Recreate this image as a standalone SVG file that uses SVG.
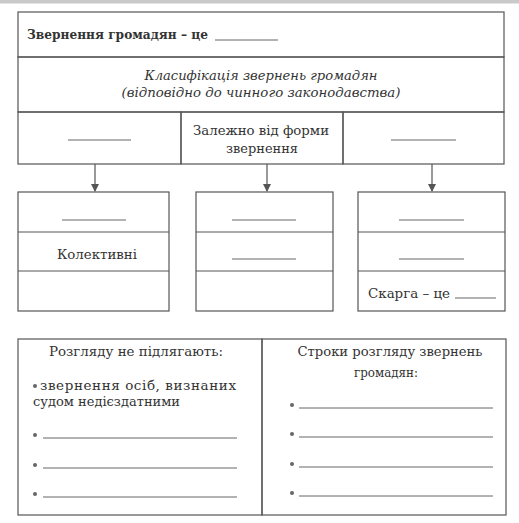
<svg xmlns="http://www.w3.org/2000/svg" width="519" height="523" viewBox="0 0 519 523">
<style>
.box{fill:none;stroke:#555;stroke-width:1.2}
.ln{stroke:#555;stroke-width:1.2;fill:none}
.bl{stroke:#666;stroke-width:1;fill:none}
.t{font-family:"DejaVu Serif","Liberation Serif",serif;font-size:13.5px;fill:#333}
.b{font-weight:bold}
.i{font-style:italic}
.m{text-anchor:middle}
.dot{fill:#666}
</style>
<defs>
<marker id="ah" markerWidth="8" markerHeight="10" refX="7" refY="4" orient="auto" markerUnits="userSpaceOnUse">
<path d="M0,0 L8,4 L0,8 Z" fill="#555"/>
</marker>
</defs>
<rect x="0" y="0" width="519" height="523" fill="#fff"/>
<rect x="0" y="0" width="519" height="3.5" fill="#c9c9c9"/>

<g id="definition">
<rect class="box" x="18" y="12" width="486" height="45"/>
<text class="t b" x="27" y="39" textLength="181" lengthAdjust="spacingAndGlyphs">Звернення громадян – це</text>
<line class="bl" x1="215" y1="40" x2="278" y2="40"/>
</g>
<g id="classification">
<rect class="box" x="18" y="57" width="486" height="55"/>
<text class="t i m" x="261" y="80" textLength="233" lengthAdjust="spacingAndGlyphs">Класифікація звернень громадян</text>
<text class="t i m" x="261" y="97" textLength="279" lengthAdjust="spacingAndGlyphs">(відповідно до чинного законодавства)</text>
</g>
<g id="crit-left">
<rect class="box" x="18" y="112" width="163" height="52"/>
<line class="bl" x1="68" y1="140" x2="131" y2="140"/>
</g>
<g id="crit-form">
<rect class="box" x="181" y="112" width="162" height="52"/>
<text class="t m" x="261" y="135" textLength="136" lengthAdjust="spacingAndGlyphs">Залежно від форми</text>
<text class="t m" x="262" y="153" textLength="72" lengthAdjust="spacingAndGlyphs">звернення</text>
</g>
<g id="crit-right">
<rect class="box" x="343" y="112" width="161" height="52"/>
<line class="bl" x1="391" y1="140" x2="456" y2="140"/>
</g>

<g id="connectors">
<line class="ln" x1="95" y1="164" x2="95" y2="191" marker-end="url(#ah)"/>
<line class="ln" x1="267" y1="164" x2="267" y2="191" marker-end="url(#ah)"/>
<line class="ln" x1="432" y1="164" x2="432" y2="191" marker-end="url(#ah)"/>
</g>

<g id="group-left">
<rect class="box" x="18" y="192" width="151" height="119"/>
<line class="ln" x1="18" y1="232" x2="169" y2="232"/>
<line class="ln" x1="18" y1="271" x2="169" y2="271"/>
<line class="bl" x1="62" y1="220" x2="126" y2="220"/>
<text class="t m" x="97" y="259" textLength="80" lengthAdjust="spacingAndGlyphs">Колективні</text>
</g>
<g id="group-mid">
<rect class="box" x="196" y="192" width="137" height="119"/>
<line class="ln" x1="196" y1="232" x2="333" y2="232"/>
<line class="ln" x1="196" y1="271" x2="333" y2="271"/>
<line class="bl" x1="232" y1="220" x2="296" y2="220"/>
<line class="bl" x1="232" y1="259" x2="296" y2="259"/>
</g>
<g id="group-right">
<rect class="box" x="358" y="192" width="147" height="119"/>
<line class="ln" x1="358" y1="232" x2="505" y2="232"/>
<line class="ln" x1="358" y1="271" x2="505" y2="271"/>
<line class="bl" x1="399" y1="220" x2="464" y2="220"/>
<line class="bl" x1="399" y1="259" x2="464" y2="259"/>
<text class="t" x="368" y="298" textLength="82" lengthAdjust="spacingAndGlyphs">Скарга – це</text>
<line class="bl" x1="455" y1="298" x2="496" y2="298"/>
</g>

<g id="not-considered">
<rect class="box" x="18" y="339" width="244" height="176"/>
<text class="t m" x="136" y="356" textLength="174" lengthAdjust="spacingAndGlyphs">Розгляду не підлягають:</text>
<circle class="dot" cx="35" cy="386" r="2"/>
<text class="t" x="40" y="390" textLength="196" lengthAdjust="spacing">звернення осіб, визнаних</text>
<text class="t" x="33" y="406" textLength="147" lengthAdjust="spacingAndGlyphs">судом недієздатними</text>
<circle class="dot" cx="35" cy="435" r="2"/>
<line class="bl" x1="43" y1="438" x2="237" y2="438"/>
<circle class="dot" cx="35" cy="465" r="2"/>
<line class="bl" x1="43" y1="468" x2="237" y2="468"/>
<circle class="dot" cx="35" cy="494" r="2"/>
<line class="bl" x1="43" y1="497" x2="237" y2="497"/>
</g>
<g id="terms">
<rect class="box" x="262" y="339" width="244" height="176"/>
<text class="t m" x="390" y="356" textLength="185" lengthAdjust="spacingAndGlyphs">Строки розгляду звернень</text>
<text class="t m" x="386" y="377" textLength="64" lengthAdjust="spacingAndGlyphs">громадян:</text>
<circle class="dot" cx="292" cy="405" r="2"/>
<line class="bl" x1="299" y1="408" x2="493" y2="408"/>
<circle class="dot" cx="292" cy="434" r="2"/>
<line class="bl" x1="299" y1="437" x2="493" y2="437"/>
<circle class="dot" cx="292" cy="464" r="2"/>
<line class="bl" x1="299" y1="467" x2="493" y2="467"/>
<circle class="dot" cx="292" cy="493" r="2"/>
<line class="bl" x1="299" y1="496" x2="493" y2="496"/>
</g>
</svg>
